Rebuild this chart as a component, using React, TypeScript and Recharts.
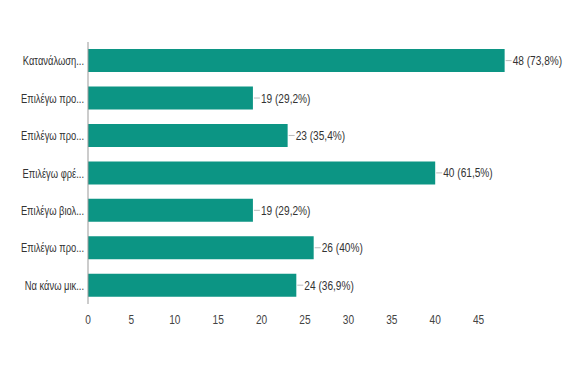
import React from 'react';
import { BarChart, Bar, XAxis, YAxis, LabelList } from 'recharts';

const categories = [
  'Κατανάλωση...',
  'Επιλέγω προ...',
  'Επιλέγω προ...',
  'Επιλέγω φρέ...',
  'Επιλέγω βιολ...',
  'Επιλέγω προ...',
  'Να κάνω μικ...',
];
const counts = [48, 19, 23, 40, 19, 26, 24];
const percents = ['73,8%', '29,2%', '35,4%', '61,5%', '29,2%', '40%', '36,9%'];
const xTicks = [0, 5, 10, 15, 20, 25, 30, 35, 40, 45];

const data = categories.map((name, i) => ({
  name,
  value: counts[i],
  label: `${counts[i]} (${percents[i]})`,
}));

const FONT = '"Liberation Sans", Arial, sans-serif';

// narrow text: the reference uses a condensed face, so squeeze horizontally
const NarrowText = ({ x, y, anchor, fill, squeeze = 0.78, children }: any) => (
  <text
    transform={`translate(${x},${y}) scale(${squeeze},1)`}
    textAnchor={anchor}
    fontSize={13}
    fill={fill}
    fontFamily={FONT}
  >
    {children}
  </text>
);

const CategoryTick = (props: any) => {
  const { y, payload } = props;
  return (
    <NarrowText x={76} y={y + 4.5} anchor="end" fill="#333333" squeeze={0.72}>
      {payload.value}
    </NarrowText>
  );
};

const NumberTick = (props: any) => {
  const { x, y, payload } = props;
  return (
    <NarrowText x={x} y={y + 12} anchor="middle" fill="#444444">
      {payload.value}
    </NarrowText>
  );
};

const BarLabel = (props: any) => {
  const { x, y, width, height, value } = props;
  const endX = x + width;
  const cy = y + height / 2;
  return (
    <g>
      <line x1={endX + 1} x2={endX + 7} y1={cy} y2={cy} stroke="#bbbbbb" strokeWidth={1} />
      <NarrowText x={endX + 8} y={cy + 4.5} anchor="start" fill="#333333">
        {value}
      </NarrowText>
    </g>
  );
};

const App: React.FC = () => {
  return (
    <div style={{ width: 580, height: 384, background: '#fff' }}>
      <BarChart
        width={580}
        height={384}
        data={data}
        layout="vertical"
        barCategoryGap="19%"
        margin={{ top: 34, right: 66, left: 0, bottom: 58 }}
      >
        <XAxis
          type="number"
          domain={[0, 50]}
          ticks={xTicks}
          axisLine={false}
          tickLine={false}
          height={30}
          tick={NumberTick}
        />
        <YAxis
          type="category"
          dataKey="name"
          width={80}
          axisLine={{ stroke: '#999999' }}
          tickLine={false}
          tick={CategoryTick}
          interval={0}
        />
        <Bar dataKey="value" fill="#0c9584" isAnimationActive={false}>
          <LabelList dataKey="label" content={BarLabel} />
        </Bar>
      </BarChart>
    </div>
  );
};

export default App;
